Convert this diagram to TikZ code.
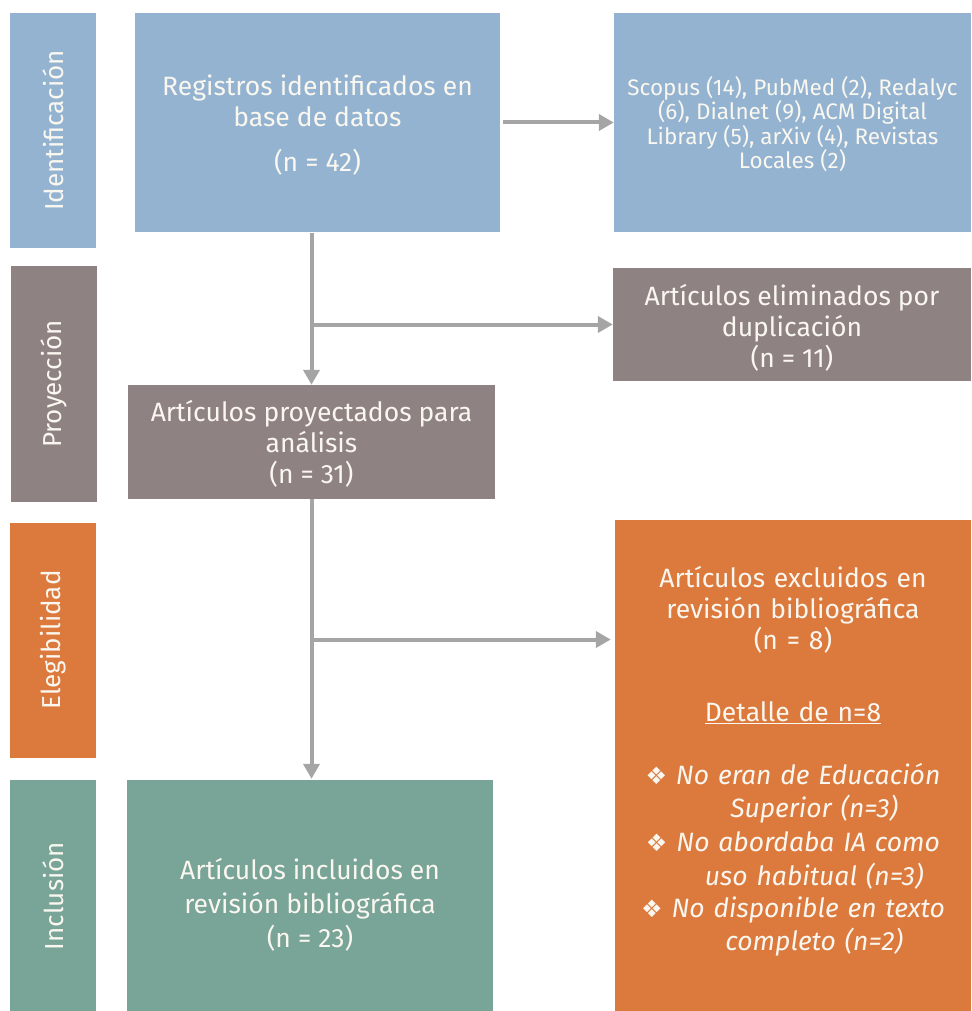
\documentclass[tikz,border=0pt]{standalone}
\usepackage{fontspec}
\setmainfont{Fira Sans}
\newfontfamily\symfont{DejaVu Sans}
\usetikzlibrary{arrows.meta,calc}
\definecolor{cblue}{HTML}{93B3D0}
\definecolor{ctaupe}{HTML}{8F8282}
\definecolor{corange}{HTML}{DC7A3E}
\definecolor{cgreen}{HTML}{79A498}
\definecolor{carrow}{HTML}{A5A5A5}
\definecolor{ctext}{HTML}{FAF7F0}
\newcommand{\bul}{{\upshape\symfont\fontsize{24}{32}\selectfont ❖}}
\tikzset{
  box/.style={rectangle, inner sep=0pt, text=ctext, align=center},
  bar/.style={rectangle, inner sep=0pt},
  barlab/.style={rotate=90, text=ctext, font=\fontsize{26}{30}\selectfont},
  arr/.style={draw=carrow, line width=4pt, -{Triangle[length=15pt,width=16pt]}},
  big/.style={font=\fontsize{26.5}{31}\selectfont},
}
\begin{document}
\begin{tikzpicture}[x=1pt,y=-1pt]
\useasboundingbox (0,0) rectangle (971,1011);
% side bars
\node[bar, fill=cblue, minimum width=86pt, minimum height=235pt] (idbar) at (53,130.5) {};
\node[barlab] (idlab) at (idbar.center) {Identificación};
\node[bar, fill=ctaupe, minimum width=86pt, minimum height=236pt] (prbar) at (54,384) {};
\node[barlab] (prlab) at (prbar.center) {Proyección};
\node[bar, fill=corange, minimum width=86pt, minimum height=235pt] (elbar) at (53,640) {};
\node[barlab] (ellab) at (elbar.center) {Elegibilidad};
\node[bar, fill=cgreen, minimum width=86pt, minimum height=232pt] (inbar) at (53,896) {};
\node[barlab] (inlab) at (inbar.center) {Inclusión};
% main boxes
\node[box, fill=cblue, minimum width=365pt, minimum height=219pt] (reg) at (317.5,122.5) {};
\node[box, big] (regt) at (317.5,125) {Registros identificados en\\ base de datos\\[14pt] (n = 42)};
\node[box, fill=cblue, minimum width=357pt, minimum height=219pt] (scop) at (792.5,122.5) {};
\node[box, font=\fontsize{22.5}{24.5}\selectfont] (scopt) at (792.5,124)
  {Scopus (14), PubMed (2), Redalyc\\ (6), Dialnet (9), ACM Digital\\ Library (5), arXiv (4), Revistas\\ Locales (2)};
\node[box, fill=ctaupe, minimum width=358pt, minimum height=113pt] (elim) at (792,324.5) {};
\node[box, big] (elimt) at (792,328)
  {Artículos eliminados por\\ duplicación\\ (n = 11)};
\node[box, fill=ctaupe, minimum width=367pt, minimum height=114pt] (proy) at (311.5,442) {};
\node[box, big] (proyt) at (311.5,443.5)
  {Artículos proyectados para\\ análisis\\ (n = 31)};
\node[box, fill=corange, minimum width=356pt, minimum height=491pt] (excl) at (793,765.5) {};
\node[box, text width=350pt, font=\fontsize{26.5}{32.5}\selectfont] (exclt) at (793,761)
  {Artículos excluidos en\\[-1.5pt] revisión bibliográfica\\[-1.5pt] (n = 8)\\[39pt]
   \underline{Detalle de n=8}\\[31pt]
   \itshape \bul{} No eran de Educación\\
   \itshape\hspace*{1.6em}Superior (n=3)\\[1.5pt]
   \itshape \bul{} No abordaba IA como\\[1.5pt]
   \itshape\hspace*{1.6em}uso habitual (n=3)\\
   \itshape \bul{} No disponible en texto\\
   \itshape\hspace*{1.6em}completo (n=2)};
\node[box, fill=cgreen, minimum width=366pt, minimum height=231pt] (incl) at (310,895.5) {};
\node[box, font=\fontsize{26.5}{34}\selectfont] (inclt) at (310,905)
  {Artículos incluidos en\\ revisión bibliográfica\\ (n = 23)};
% connectors
\draw[arr, shorten <=3pt] (reg.east |- scop.west) -- (scop.west);
\coordinate (top1) at (reg.south -| proy.north);
\coordinate (b1) at (proy.north |- elim.west);
\draw[arr, shorten <=1pt] (top1) -- (proy.north);
\draw[arr] (b1) -- (elim.west);
\coordinate (b2) at ($(proy.south)!0.5!(proy.south |- incl.north)$);
\draw[arr, shorten >=1pt] (proy.south) -- (proy.south |- incl.north);
\draw[arr, shorten >=4pt] (b2) -- (b2 -| excl.west);
\end{tikzpicture}
\end{document}
